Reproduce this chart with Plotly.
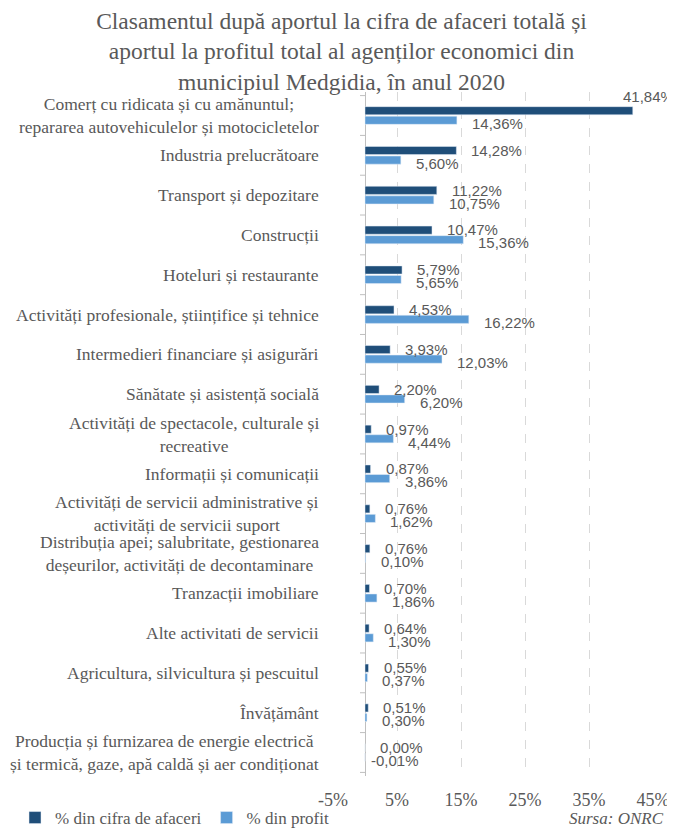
import plotly.graph_objects as go

categories = [
    "Comerț cu ridicata și cu amănuntul;<br>repararea autovehiculelor și motocicletelor",
    "Industria prelucrătoare",
    "Transport și depozitare",
    "Construcții",
    "Hoteluri și restaurante",
    "Activități profesionale, științifice și tehnice",
    "Intermedieri financiare și asigurări",
    "Sănătate și asistență socială",
    "Activități de spectacole, culturale și<br>recreative",
    "Informații și comunicații",
    "Activități de servicii administrative și<br>activități de servicii suport",
    "Distribuția apei; salubritate, gestionarea<br>deșeurilor, activități de decontaminare",
    "Tranzacții imobiliare",
    "Alte activitati de servicii",
    "Agricultura, silvicultura și pescuitul",
    "Învățământ",
    "Producția și furnizarea de energie electrică<br>și termică, gaze, apă caldă și aer condiționat",
]
cifra_afaceri = [41.84, 14.28, 11.22, 10.47, 5.79, 4.53, 3.93, 2.20, 0.97, 0.87,
                 0.76, 0.76, 0.70, 0.64, 0.55, 0.51, 0.00]
profit = [14.36, 5.60, 10.75, 15.36, 5.65, 16.22, 12.03, 6.20, 4.44, 3.86,
          1.62, 0.10, 1.86, 1.30, 0.37, 0.30, -0.01]
tick_vals = [-5, 5, 15, 25, 35, 45]
tick_text = ["-5%", "5%", "15%", "25%", "35%", "45%"]
series_names = ["% din cifra de afaceri", "% din profit"]

DARK = "#1F4E79"
LIGHT = "#5B9BD5"
GRAY = "#595959"
SERIF = "Liberation Serif, Times New Roman, serif"
SANS = "Liberation Sans, Arial, sans-serif"

# page body adds an 8px margin, so the figure is sized to fit the window
W, H = 667, 825
ML, MR, MT, MB = 325, 22, 84, 57
PW, PH = W - ML - MR, H - MT - MB

def fmt(v):
    return f"{v:.2f}".replace(".", ",") + "%"

fig = go.Figure()
fig.add_trace(go.Bar(y=categories, x=cifra_afaceri, orientation="h", name=series_names[0],
                     marker=dict(color=DARK), hoverinfo="x+y"))
fig.add_trace(go.Bar(y=categories, x=profit, orientation="h", name=series_names[1],
                     marker=dict(color=LIGHT), hoverinfo="x+y"))

annotations = []
# category labels (centered multi-line, right-anchored)
for c in categories:
    annotations.append(dict(x=0, xref="paper", y=c, yref="y", text=c, showarrow=False,
                            xanchor="right", xshift=-12, align="center",
                            font=dict(family=SERIF, size=17.5, color=GRAY)))
# data labels
for c, v in zip(categories, cifra_afaceri):
    xs, ys = 13, 5
    if v > 38:
        xs, ys = -12, 19
    annotations.append(dict(x=v, xref="x", y=c, yref="y", text=fmt(v), showarrow=False,
                            xanchor="left", xshift=xs, yshift=ys,
                            font=dict(family=SANS, size=15, color=GRAY)))
for c, v in zip(categories, profit):
    annotations.append(dict(x=max(v, 0), xref="x", y=c, yref="y", text=fmt(v), showarrow=False,
                            xanchor="left", xshift=13 if v >= 0 else 4, yshift=-8,
                            font=dict(family=SANS, size=15, color=GRAY)))
annotations.append(dict(x=1, xref="paper", y=-42 / PH, yref="paper", text="<i>Sursa: ONRC</i>",
                        showarrow=False, xanchor="right", yanchor="middle", xshift=13,
                        font=dict(family=SERIF, size=17, color=GRAY)))

# category axis tick marks at the zero line
shapes = []
for i in range(len(categories) + 1):
    shapes.append(dict(type="line", xref="x", yref="y", xsizemode="pixel", xanchor=0,
                       x0=-5, x1=0, y0=i - 0.5, y1=i - 0.5,
                       line=dict(color="#BFBFBF", width=1)))

fig.update_layout(
    width=W, height=H,
    margin=dict(l=ML, r=MR, t=MT, b=MB, autoexpand=False),
    paper_bgcolor="white", plot_bgcolor="white",
    barmode="group", bargap=0.52, bargroupgap=0.15,
    title=dict(text="Clasamentul după aportul la cifra de afaceri totală și<br>"
                    "aportul la profitul total al agenților economici din<br>"
                    "municipiul Medgidia, în anul 2020",
               x=0.5, xref="container", xanchor="center",
               y=0.975, yref="container", yanchor="top",
               font=dict(family=SERIF, size=23.5, color=GRAY)),
    xaxis=dict(range=[-5, 45], tickvals=tick_vals, ticktext=tick_text,
               showgrid=True, gridcolor="#D9D9D9", griddash="dash", gridwidth=1,
               zeroline=True, zerolinecolor="#BFBFBF", zerolinewidth=1,
               showline=False, ticks="", ticklabelstandoff=11,
               tickfont=dict(family=SERIF, size=18, color=GRAY), fixedrange=True),
    yaxis=dict(autorange="reversed", showticklabels=False, showgrid=False,
               zeroline=False, showline=False, ticks=""),
    legend=dict(orientation="h", xref="paper", yref="paper",
                x=(7 - ML) / PW, y=-42 / PH, xanchor="left", yanchor="middle",
                font=dict(family=SERIF, size=17, color=GRAY),
                itemwidth=30, traceorder="normal", bgcolor="rgba(0,0,0,0)"),
    annotations=annotations,
    shapes=shapes,
)

fig.write_html("out.html")
